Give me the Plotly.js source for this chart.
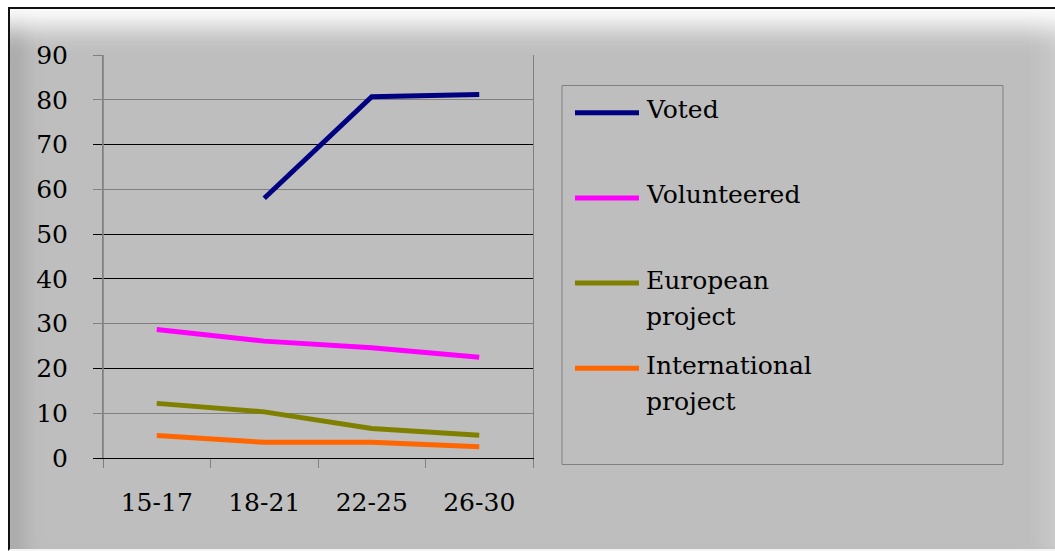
<!DOCTYPE html>
<html>
<head>
<meta charset="utf-8">
<script src="https://cdn.plot.ly/plotly-3.0.1.min.js"></script>
<style>
  html, body { margin: 0; padding: 0; background: #ffffff; }
  #frame {
    position: absolute; left: 8px; top: 7px; width: 1047px; height: 544px;
    box-sizing: border-box;
    border-top: 2px solid #111; border-left: 2px solid #111;
    border-bottom: 2px solid #f4f4f4;
    background: #bebebe;
    box-shadow: inset 0 38px 26px -20px #ffffff, inset 30px 0 20px -16px #a8a8a8, inset -30px 0 18px -16px #c8c8c8;
  }
  #chart { position: absolute; left: 0; top: 0; width: 1055px; height: 551px; }
</style>
</head>
<body>
<div id="frame"></div>
<div id="chart"></div>
<script>
// ---- data ----
const ageGroups = ['15-17', '18-21', '22-25', '26-30'];
const voted = [null, 58.0, 80.7, 81.2];
const volunteered = [28.7, 26.1, 24.6, 22.5];
const europeanProject = [12.2, 10.3, 6.6, 5.1];
const internationalProject = [5.0, 3.5, 3.5, 2.5];

const seriesNames = ['Voted', 'Volunteered', 'European project', 'International project'];
const legendLines = [['Voted'], ['Volunteered'], ['European', 'project'], ['International', 'project']];
const seriesValues = [voted, volunteered, europeanProject, internationalProject];
const seriesColors = ['#000080', '#ff00ff', '#808000', '#ff6600'];

const yTicks = [0, 10, 20, 30, 40, 50, 60, 70, 80, 90];
const darkGridTicks = [20, 40, 50, 70];

// ---- layout helpers ----
const W = 1055, H = 551;
const M = { l: 103, r: 522, t: 55, b: 93 };
const PW = W - M.l - M.r, PH = H - M.t - M.b;
const px = x => (x - M.l) / PW;
const py = y => (H - M.b - y) / PH;

const FONT = 'DejaVu Serif';
const FS = 25;

const traces = seriesValues.map((vals, i) => ({
  type: 'scatter', mode: 'lines',
  x: ageGroups, y: vals,
  name: seriesNames[i],
  line: { color: seriesColors[i], width: 5 },
  connectgaps: false,
  hoverinfo: 'skip'
}));
traces.push({ type: 'scatter', mode: 'lines', x: ageGroups, y: [null, null, null, null], yaxis: 'y2', showlegend: false, hoverinfo: 'skip' });

const shapes = [];
const annotations = [];
shapes.push({ type: 'rect', xref: 'paper', yref: 'paper', x0: px(562), x1: px(1003), y0: py(85.5), y1: py(464.5),
  line: { color: '#808080', width: 1 }, fillcolor: 'rgba(0,0,0,0)', layer: 'below' });
shapes.push({ type: 'line', xref: 'paper', yref: 'paper', x0: 0, x1: 0, y0: 0, y1: 1,
  line: { color: '#808080', width: 1.5 }, layer: 'above' });
const lineSpacing = 36;
legendLines.forEach((lines, i) => {
  const ly = 112.7 + i * 85.2;
  shapes.push({ type: 'line', xref: 'paper', yref: 'paper', x0: px(575), x1: px(639), y0: py(ly), y1: py(ly),
    line: { color: seriesColors[i], width: 5 } });
  lines.forEach((txt, k) => {
    annotations.push({ xref: 'paper', yref: 'paper', x: px(644), y: py(ly - 3 + k * lineSpacing), xanchor: 'left', yanchor: 'middle',
      text: txt, showarrow: false, align: 'left', font: { family: FONT, size: FS, color: '#000' } });
  });
});

const layout = {
  width: W, height: H,
  margin: M,
  paper_bgcolor: 'rgba(0,0,0,0)',
  plot_bgcolor: 'rgba(0,0,0,0)',
  showlegend: false,
  font: { family: FONT, size: FS, color: '#000' },
  xaxis: {
    type: 'category', range: [-0.5, 3.5],
    tickson: 'boundaries', ticks: 'outside', ticklen: 9, tickcolor: '#808080', tickwidth: 1,
    showgrid: false, zeroline: false,
    showline: true, linecolor: '#000', linewidth: 1,
    ticklabelstandoff: 22,
    tickfont: { family: FONT, size: FS, color: '#000' }
  },
  yaxis: {
    range: [0, 90], tickvals: yTicks, ticktext: yTicks.map(String),
    ticks: 'outside', ticklen: 9, tickcolor: '#808080',
    showgrid: true, gridcolor: '#808080', gridwidth: 1,
    zeroline: false, showline: true, linecolor: '#808080', linewidth: 1, mirror: true,
    ticklabelstandoff: 20,
    tickfont: { family: FONT, size: FS, color: '#000' }
  },
  yaxis2: {
    overlaying: 'y', side: 'left', range: [0, 90], tickvals: [0].concat(darkGridTicks),
    showticklabels: false, ticks: 'outside', ticklen: 9, tickcolor: '#000',
    showgrid: true, gridcolor: '#000', gridwidth: 1, zeroline: false, showline: false
  },
  shapes: shapes,
  annotations: annotations
};

Plotly.newPlot('chart', traces, layout, { staticPlot: true, displayModeBar: false });
</script>
</body>
</html>
